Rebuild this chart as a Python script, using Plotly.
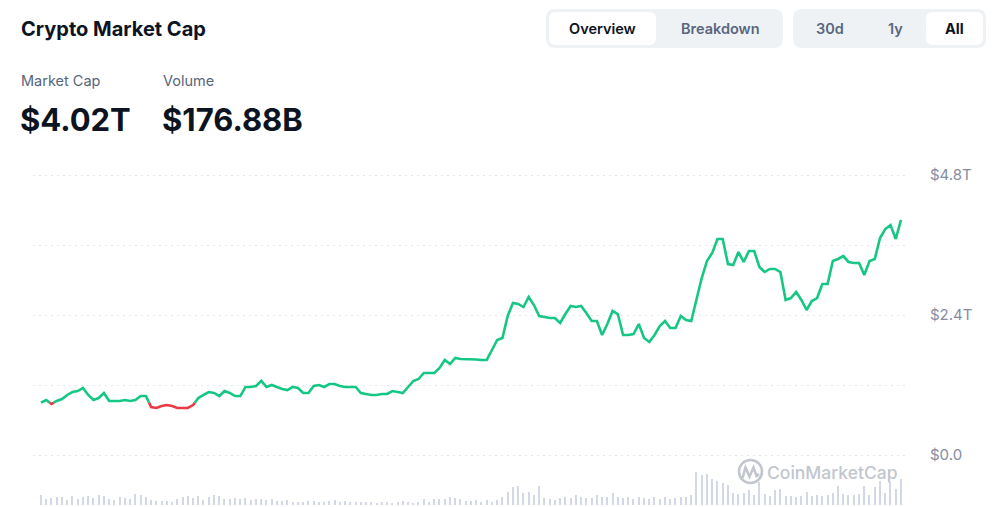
import plotly.graph_objects as go

# ---------------- data ----------------
# market cap in trillions USD (time ordered, "All" view)
market_cap_t = [
    0.897, 0.943, 0.874, 0.926, 0.960, 1.029, 1.080, 1.097, 1.149, 1.029,
    0.943, 0.977, 1.063, 0.926, 0.926, 0.926, 0.943, 0.926, 0.943, 1.011,
    1.011, 0.823, 0.806, 0.840, 0.857, 0.840, 0.806, 0.806, 0.806, 0.857,
    0.977, 1.029, 1.080, 1.063, 1.011, 1.097, 1.063, 1.011, 1.011, 1.166,
    1.166, 1.183, 1.269, 1.166, 1.200, 1.166, 1.131, 1.114, 1.166, 1.149,
    1.063, 1.063, 1.183, 1.200, 1.166, 1.217, 1.217, 1.183, 1.166, 1.166,
    1.166, 1.063, 1.046, 1.029, 1.029, 1.046, 1.046, 1.097, 1.080, 1.063,
    1.166, 1.269, 1.303, 1.406, 1.406, 1.406, 1.491, 1.629, 1.560, 1.663,
    1.646, 1.646, 1.646, 1.637, 1.629, 1.629, 1.800, 1.971, 2.006, 2.383,
    2.606, 2.589, 2.537, 2.709, 2.571, 2.383, 2.366, 2.349, 2.349, 2.263,
    2.417, 2.554, 2.537, 2.554, 2.434, 2.297, 2.297, 2.057, 2.246, 2.469,
    2.417, 2.057, 2.057, 2.074, 2.246, 2.006, 1.937, 2.057, 2.211, 2.297,
    2.177, 2.177, 2.383, 2.314, 2.297, 2.691, 3.034, 3.326, 3.463, 3.703,
    3.703, 3.274, 3.257, 3.480, 3.309, 3.497, 3.497, 3.223, 3.137, 3.189,
    3.189, 3.137, 2.657, 2.691, 2.794, 2.657, 2.486, 2.640, 2.691, 2.931,
    2.931, 3.326, 3.360, 3.411, 3.309, 3.291, 3.291, 3.086, 3.326, 3.360,
    3.720, 3.874, 3.943, 3.703, 4.029,
]

# volume in billions USD
volume_b = [
    70, 42, 49, 56, 56, 35, 63, 42, 56, 63, 49, 70, 63, 42, 35, 56, 49, 42, 77, 70,
    56, 35, 28, 28, 28, 21, 42, 56, 63, 49, 63, 35, 56, 70, 63, 42, 42, 49, 42, 49,
    35, 42, 42, 35, 42, 28, 28, 35, 21, 21, 21, 28, 28, 21, 21, 28, 35, 21, 28, 21,
    21, 21, 21, 21, 14, 21, 21, 14, 21, 28, 21, 14, 21, 42, 21, 42, 42, 42, 56, 49, 42,
    28, 28, 35, 21, 35, 21, 35, 56, 91, 119, 126, 84, 91, 70, 126, 49, 42, 35, 49, 56,
    49, 70, 56, 49, 49, 70, 56, 56, 84, 56, 49, 56, 42, 56, 49, 42, 56, 42, 56, 42,
    49, 56, 56, 70, 224, 203, 210, 175, 161, 147, 133, 84, 77, 84, 105, 70, 154, 77, 63, 105,
    112, 63, 63, 56, 63, 91, 63, 70, 63, 70, 84, 126, 77, 70, 70, 77, 126, 70, 119, 161,
    84, 154, 112, 177,
]

y_tick_vals = [0, 1.2, 2.4, 3.6, 4.8]
y_tick_text = ["$0.0", "", "$2.4T", "", "$4.8T"]

title_text = "Crypto Market Cap"
stat_labels = ["Market Cap", "Volume"]
stat_values = ["$4.02T", "$176.88B"]
tabs_view = ["Overview", "Breakdown"]
tabs_range = ["30d", "1y", "All"]

# ---------------- layout geometry ----------------
W, H = 997, 507
L, R, T, B = 33, 89, 160, 2
PW, PH = W - L - R, H - T - B

GREEN = "#16c784"
RED = "#ea3943"
FONT = "Inter"


def px(x):
    return (x - L) / PW


def py(y):
    return (H - B - y) / PH


def rrect(x0, y0, x1, y1, r):
    pts = [
        ("M", [(x0 + r, y0)]),
        ("L", [(x1 - r, y0)]),
        ("Q", [(x1, y0), (x1, y0 + r)]),
        ("L", [(x1, y1 - r)]),
        ("Q", [(x1, y1), (x1 - r, y1)]),
        ("L", [(x0 + r, y1)]),
        ("Q", [(x0, y1), (x0, y1 - r)]),
        ("L", [(x0, y0 + r)]),
        ("Q", [(x0, y0), (x0 + r, y0)]),
    ]
    s = ""
    for cmd, ps in pts:
        s += cmd + " " + " ".join(f"{px(a):.5f},{py(b):.5f}" for a, b in ps) + " "
    return s + "Z"


# ---------------- line split by baseline (first value) ----------------
n = len(market_cap_t)
xs = list(range(n))
base = market_cap_t[0]
gx, gy, rx, ry = [], [], [], []
cur_green = True
gx.append(0)
gy.append(market_cap_t[0])
for i in range(n - 1):
    a, b = market_cap_t[i], market_cap_t[i + 1]
    ca, cb = a >= base, b >= base
    if ca == cb:
        (gx if cur_green else rx).append(i + 1)
        (gy if cur_green else ry).append(b)
    else:
        t = (base - a) / (b - a)
        xc = i + t
        lx, ly = (gx, gy) if cur_green else (rx, ry)
        lx += [xc, None]
        ly += [base, None]
        cur_green = not cur_green
        lx, ly = (gx, gy) if cur_green else (rx, ry)
        lx += [xc, i + 1]
        ly += [base, b]

fig = go.Figure()

fig.add_trace(go.Bar(
    x=xs, y=volume_b, yaxis="y2", width=0.22,
    marker=dict(color="#d3d8e7", line=dict(width=0)),
    hoverinfo="skip", showlegend=False,
))
fig.add_trace(go.Scatter(
    x=gx, y=gy, mode="lines", line=dict(color=GREEN, width=2.6),
    hoverinfo="skip", showlegend=False,
))
fig.add_trace(go.Scatter(
    x=rx, y=ry, mode="lines", line=dict(color=RED, width=2.6),
    hoverinfo="skip", showlegend=False,
))

# axis ranges from pixel geometry
pt_per_t = (455 - 175) / 4.8
y_lo = -(505 - 455) / pt_per_t
y_hi = 4.8 + (175 - T) / pt_per_t
step = (901 - 41) / (n - 1)
x_lo = -(41 - L) / step
x_hi = (n - 1) + (L + PW - 901) / step
vol_hi = max(volume_b) * PH / 33

shapes = []
# toggle groups
shapes.append(dict(type="path", xref="paper", yref="paper", path=rrect(546, 9, 783, 48, 9),
                   fillcolor="#eff2f5", line=dict(width=0), layer="above"))
shapes.append(dict(type="path", xref="paper", yref="paper", path=rrect(549, 12, 656, 45, 7),
                   fillcolor="#ffffff", line=dict(width=0), layer="above"))
shapes.append(dict(type="path", xref="paper", yref="paper", path=rrect(793, 9, 986, 48, 9),
                   fillcolor="#eff2f5", line=dict(width=0), layer="above"))
shapes.append(dict(type="path", xref="paper", yref="paper", path=rrect(926, 12, 983, 45, 7),
                   fillcolor="#ffffff", line=dict(width=0), layer="above"))
# watermark logo
shapes.append(dict(type="circle", xref="paper", yref="paper",
                   x0=px(739), x1=px(762), y0=py(483), y1=py(460),
                   line=dict(color="#c2c6ce", width=2.6), layer="above"))
mpts = [(742.5, 478), (745.5, 467.5), (749.5, 476.5), (753.5, 467.5), (756.5, 476), (759, 474)]
mpath = "M " + " L ".join(f"{px(a):.5f},{py(b):.5f}" for a, b in mpts)
shapes.append(dict(type="path", xref="paper", yref="paper", path=mpath,
                   line=dict(color="#c2c6ce", width=2.6), layer="above"))

ann = []


def text(x, y, s, size, color, weight=400, xanchor="left"):
    ann.append(dict(x=px(x), y=py(y), xref="paper", yref="paper", text=s, showarrow=False,
                    xanchor=xanchor, yanchor="middle",
                    font=dict(family=FONT, size=size, color=color, weight=weight)))


text(19, 29, title_text, 20, "#0d1421", 700)
text(19, 80, stat_labels[0], 14.5, "#58667e", 400)
text(161, 80, stat_labels[1], 14.5, "#58667e", 400)
text(18, 120, stat_values[0], 31, "#0d1421", 700)
text(160, 120, stat_values[1], 31, "#0d1421", 700)

text(602, 28, tabs_view[0], 14.5, "#0d1421", 600, "center")
text(720, 28, tabs_view[1], 14.5, "#58667e", 600, "center")
text(830, 28, tabs_range[0], 14.5, "#58667e", 600, "center")
text(895, 28, tabs_range[1], 14.5, "#58667e", 600, "center")
text(955, 28, tabs_range[2], 14.5, "#0d1421", 700, "center")

text(765, 472, "CoinMarketCap", 17.5, "#c2c6ce", 500)

fig.update_layout(
    width=W, height=H,
    margin=dict(l=L, r=R, t=T, b=B),
    paper_bgcolor="#ffffff", plot_bgcolor="#ffffff",
    font=dict(family=FONT),
    showlegend=False,
    bargap=0,
    xaxis=dict(range=[x_lo, x_hi], showgrid=False, zeroline=False, showticklabels=False,
               showline=False, fixedrange=True),
    yaxis=dict(range=[y_lo, y_hi], side="right", tickvals=y_tick_vals, ticktext=y_tick_text,
               showgrid=True, gridcolor="#e3e6ec", griddash="2px,4px", gridwidth=1,
               zeroline=False, showline=False, ticks="", ticklabelstandoff=21,
               tickfont=dict(family=FONT, size=15, color="#858ca2")),
    yaxis2=dict(range=[0, vol_hi], overlaying="y", side="left", showgrid=False,
                zeroline=False, showticklabels=False, showline=False),
    shapes=shapes,
    annotations=ann,
)

fig.write_html("out.html")
